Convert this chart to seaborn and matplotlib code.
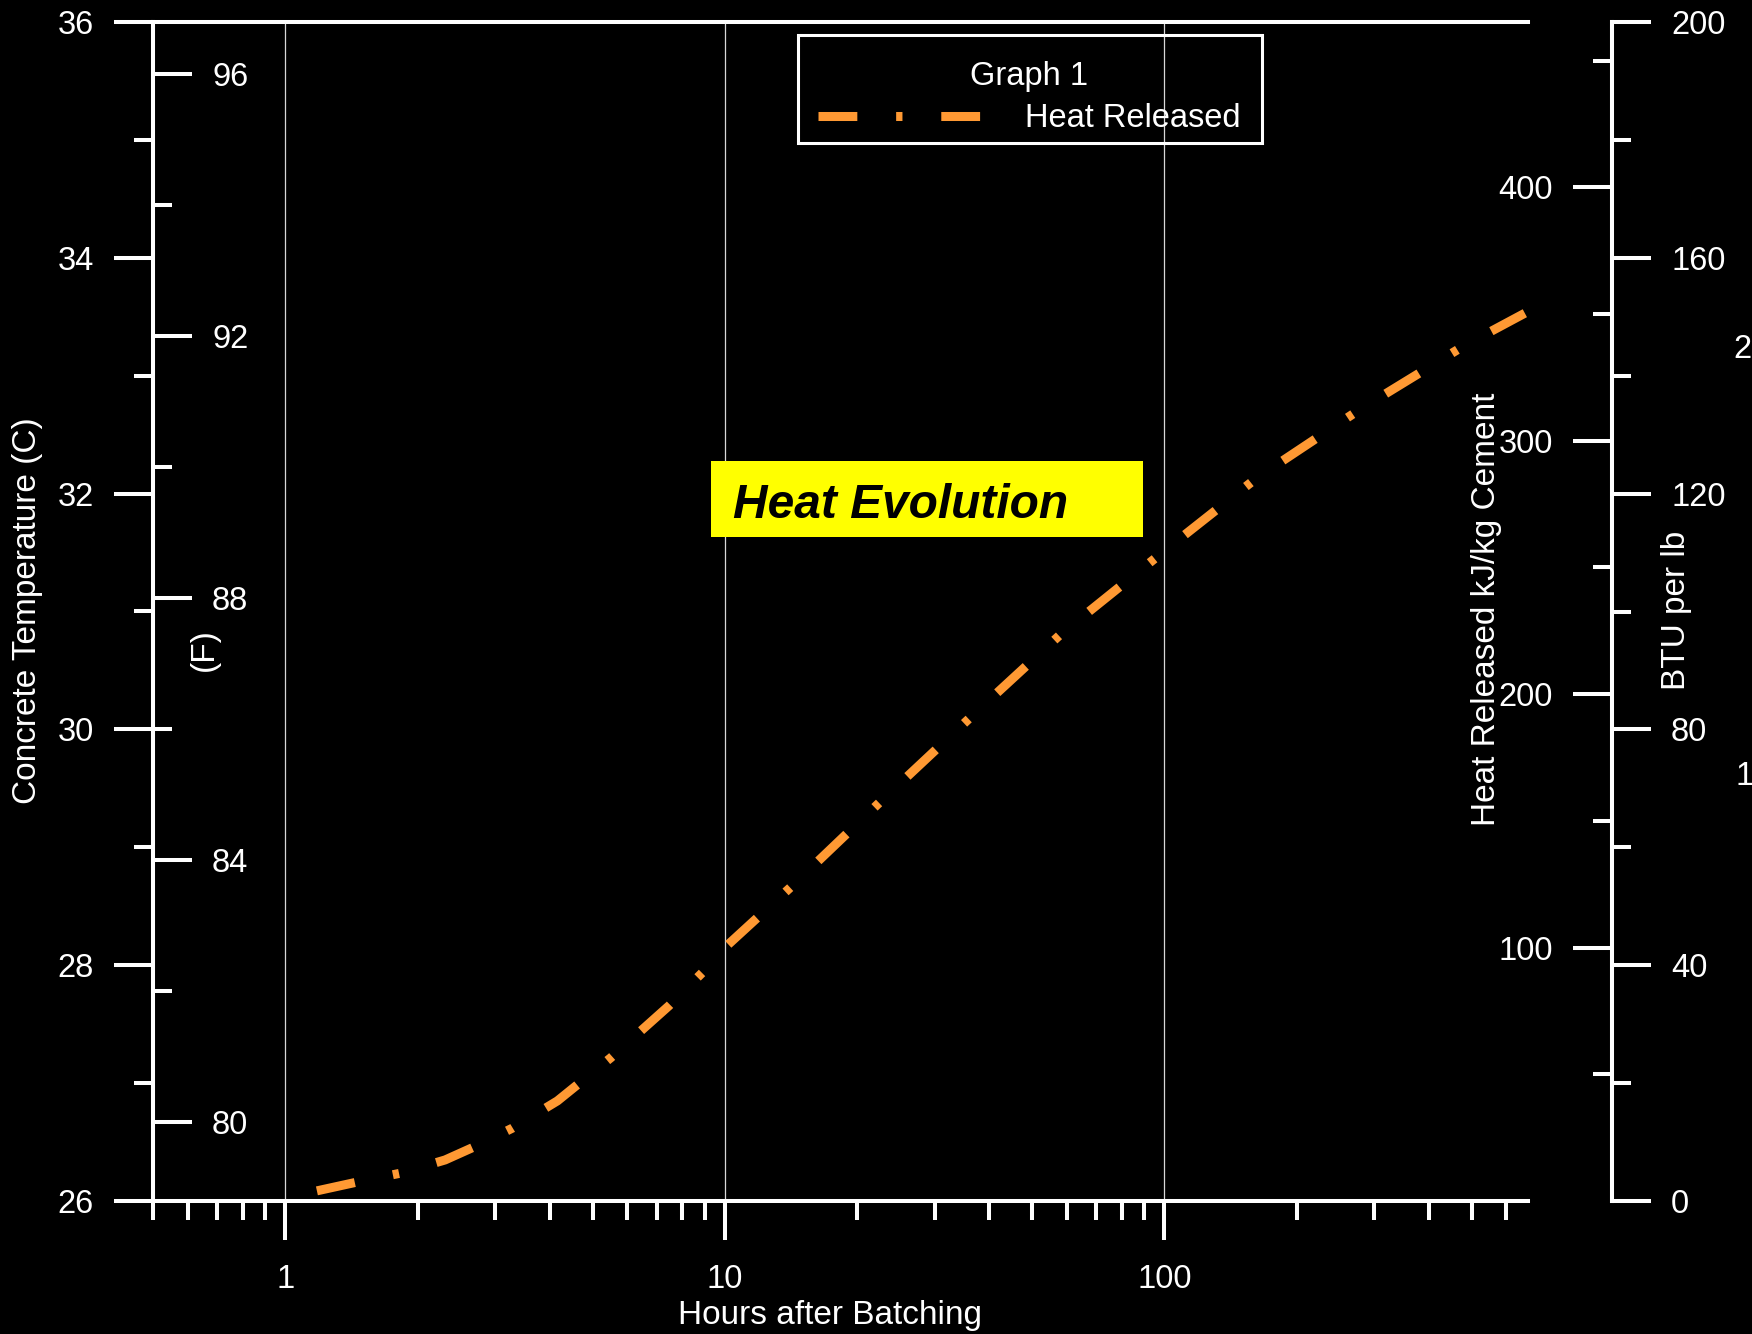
import matplotlib
matplotlib.use("Agg")
import matplotlib.pyplot as plt
from matplotlib.patches import Rectangle
from matplotlib.ticker import FixedLocator, FixedFormatter, NullFormatter
import numpy as np
import pandas as pd
import seaborn as sns

# Cumulative heat of hydration (kJ per kg of cement) against time since batching
hours = [1.18, 1.45, 1.83, 2.31, 2.75, 3.29, 4.16, 5.5, 7.46, 8.9, 10.0,
         14.2, 22.7, 36.3, 58.0, 98.5, 162.0, 275.0, 479.0, 661.0]
heat_kj = [4.0, 7.4, 11.0, 16.2, 22.1, 28.8, 39.5, 56.5, 77.0, 90.2, 100.0,
           124.2, 157.9, 191.0, 223.5, 255.6, 285.2, 311.7, 337.3, 350.3]

# Axis ranges and tick values
x_range = (0.5, 672)
x_major = [1, 10, 100]
x_major_labels = ["1", "10", "100"]
x_minor = [0.5, 0.6, 0.7, 0.8, 0.9, 2, 3, 4, 5, 6, 7, 8, 9,
           20, 30, 40, 50, 60, 70, 80, 90, 200, 300, 400, 500, 600]
temp_c_range = (26, 36)
temp_c_major = [26, 28, 30, 32, 34, 36]
temp_c_minor = [27, 29, 31, 33, 35]
temp_f_major = [80, 84, 88, 92, 96]
temp_f_minor = [82, 86, 90, 94]
btu_range = (0, 200)
btu_major = [0, 40, 80, 120, 160, 200]
btu_minor = [20, 60, 100, 140, 180]
kj_major = [100, 200, 300, 400]
kj_minor = [50, 150, 250, 350, 450]
KJ_PER_BTU_LB = 2.326

df = pd.DataFrame({"hours": hours, "heat": heat_kj})

sns.set_theme(style="ticks")
plt.rcParams.update({
    "figure.facecolor": "black",
    "axes.facecolor": "black",
    "savefig.facecolor": "black",
    "text.color": "white",
    "axes.labelcolor": "white",
    "xtick.color": "white",
    "ytick.color": "white",
})
plt.rcParams["font.family"] = ["Liberation Sans", "DejaVu Sans"]

W, H = 1752, 1334
FS = 23.5       # tick labels and legend
FS_LABEL = 24   # axis titles
LW = 2.9
MAJ, MIN = 28, 14
PAD = 14.5

fig = plt.figure(figsize=(W / 100, H / 100), dpi=100)
L, R, B, T = 153, 1528, 1201, 22
ax = fig.add_axes([L / W, 1 - B / H, (R - L) / W, (B - T) / H])
xr = (1612 - L) / (R - L)  # position of the heat axis spine in axes units


def style_ticks(a, axis):
    a.tick_params(axis=axis, which="major", direction="out", length=MAJ,
                  width=LW, colors="white", labelsize=FS, pad=PAD)
    a.tick_params(axis=axis, which="minor", direction="out", length=MIN,
                  width=LW, colors="white")


# Main axes: temperature in Celsius, log time axis
ax.set_xscale("log")
ax.set_xlim(*x_range)
ax.set_ylim(*temp_c_range)
ax.xaxis.set_major_locator(FixedLocator(x_major))
ax.xaxis.set_major_formatter(FixedFormatter(x_major_labels))
ax.xaxis.set_minor_locator(FixedLocator(x_minor))
ax.xaxis.set_minor_formatter(NullFormatter())
ax.yaxis.set_major_locator(FixedLocator(temp_c_major))
ax.yaxis.set_minor_locator(FixedLocator(temp_c_minor))
style_ticks(ax, "x")
style_ticks(ax, "y")
ax.tick_params(axis="x", which="major", pad=17.5)
ax.grid(True, axis="x", which="major", color="#d8d8d8", lw=0.9)
ax.grid(False, axis="y")
for side in ("left", "bottom", "top"):
    ax.spines[side].set_color("white")
    ax.spines[side].set_linewidth(LW)
ax.spines["right"].set_visible(False)

# Fahrenheit scale sharing the left spine, ticks pointing inward
ax_f = ax.twinx()
ax_f.set_ylim(temp_c_range[0] * 1.8 + 32, temp_c_range[1] * 1.8 + 32)
ax_f.yaxis.set_major_locator(FixedLocator(temp_f_major))
ax_f.yaxis.set_minor_locator(FixedLocator(temp_f_minor))
ax_f.yaxis.set_minor_formatter(NullFormatter())
style_ticks(ax_f, "y")
for side in ("left", "top", "bottom"):
    ax_f.spines[side].set_visible(False)
ax_f.spines["right"].set_position(("axes", 0))
ax_f.spines["right"].set_color("white")
ax_f.spines["right"].set_linewidth(LW)

# Heat released in kJ/kg, ticks to the left of the right-hand spine
ax_kj = ax.twinx()
ax_kj.set_ylim(btu_range[0] * KJ_PER_BTU_LB, btu_range[1] * KJ_PER_BTU_LB)
ax_kj.yaxis.tick_left()
ax_kj.yaxis.set_major_locator(FixedLocator(kj_major))
ax_kj.yaxis.set_minor_locator(FixedLocator(kj_minor))
ax_kj.yaxis.set_minor_formatter(NullFormatter())
style_ticks(ax_kj, "y")
for side in ("right", "top", "bottom"):
    ax_kj.spines[side].set_visible(False)
ax_kj.spines["left"].set_position(("axes", xr))
ax_kj.spines["left"].set_color("white")
ax_kj.spines["left"].set_linewidth(LW)

# Same quantity in BTU per lb, ticks to the right
ax_btu = ax.twinx()
ax_btu.set_ylim(*btu_range)
ax_btu.yaxis.set_major_locator(FixedLocator(btu_major))
ax_btu.yaxis.set_minor_locator(FixedLocator(btu_minor))
ax_btu.yaxis.set_minor_formatter(NullFormatter())
style_ticks(ax_btu, "y")
for side in ("left", "top", "bottom"):
    ax_btu.spines[side].set_visible(False)
ax_btu.spines["right"].set_position(("axes", xr))
ax_btu.spines["right"].set_color("white")
ax_btu.spines["right"].set_linewidth(LW)

# Heat evolution curve
sns.lineplot(data=df, x="hours", y="heat", ax=ax_kj, color="#FF9933",
             lw=6.5, linestyle=(0, (4.3, 4.3, 0.7, 4.3)),
             label="Heat Released", legend=False)
ax_kj.set_xlabel("")
ax_kj.set_ylabel("")
for line in ax_kj.get_lines():
    line.set_dash_capstyle("butt")

# Legend with a square white frame
leg = ax_kj.legend(loc="upper left", bbox_to_anchor=(798 / W, 1 - 41 / H),
                   bbox_transform=fig.transFigure, title="Graph 1",
                   fontsize=FS, title_fontsize=FS, frameon=False,
                   handlelength=5.1, handletextpad=1.27, labelspacing=0.35,
                   borderpad=0.6, borderaxespad=0)
leg.get_title().set_color("white")
for t in leg.get_texts():
    t.set_color("white")
fig.add_artist(Rectangle((798 / W, 1 - 143 / H), 464 / W, 108 / H,
                         transform=fig.transFigure, facecolor="none",
                         edgecolor="white", lw=2.2))

# Axis titles
fig.text(28 / W, 1 - 611 / H, "Concrete Temperature (C)", rotation=90,
         ha="center", va="center", fontsize=FS_LABEL, color="white")
fig.text(204 / W, 1 - 650 / H, "(F)", rotation=90,
         ha="center", va="center", fontsize=FS_LABEL, color="white")
fig.text(1487 / W, 1 - 609 / H, "Heat Released kJ/kg Cement", rotation=90,
         ha="center", va="center", fontsize=FS_LABEL, color="white")
fig.text(1677 / W, 1 - 610 / H, "BTU per lb", rotation=90,
         ha="center", va="center", fontsize=FS_LABEL, color="white")
fig.text(830 / W, 1 - 1324 / H, "Hours after Batching",
         ha="center", va="baseline", fontsize=FS_LABEL, color="white")
fig.text(1733 / W, 1 - 358 / H, "2", ha="left", va="baseline",
         fontsize=FS, color="white")
fig.text(1735 / W, 1 - 785 / H, "1", ha="left", va="baseline",
         fontsize=FS, color="white")

# Title badge
fig.add_artist(Rectangle((711 / W, 1 - 537 / H), 432 / W, 76 / H,
                         transform=fig.transFigure, facecolor="#FFFF00",
                         edgecolor="none"))
fig.text(733 / W, 1 - 518 / H, "Heat Evolution", ha="left", va="baseline",
         fontsize=34.5, fontweight="bold", style="italic", color="black")

fig.savefig("out.png", dpi=100, facecolor="black")
